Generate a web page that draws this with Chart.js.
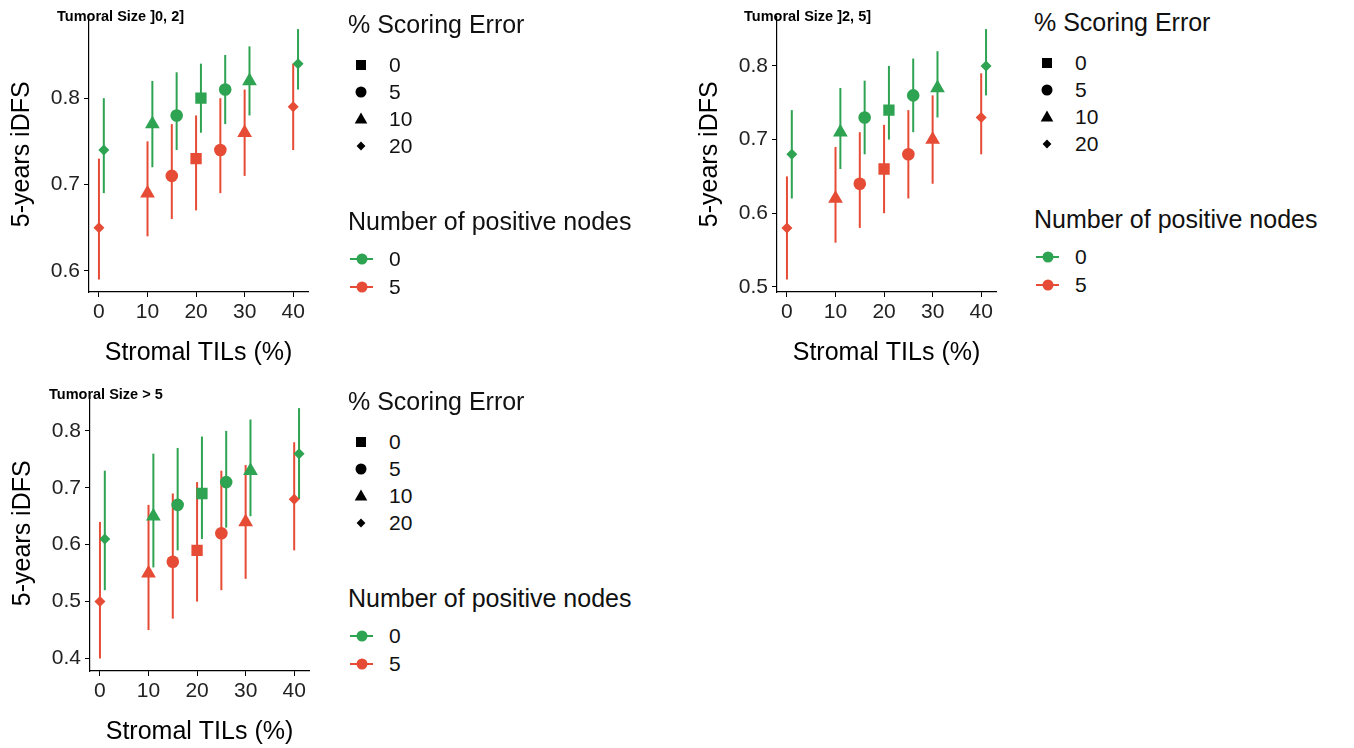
<!DOCTYPE html>
<html>
<head>
<meta charset="utf-8">
<script src="https://cdn.jsdelivr.net/npm/chart.js@4"></script>
<style>
body { margin:0; background:#fff; width:1354px; height:748px; overflow:hidden; position:relative; font-family:"Liberation Sans", Arial, sans-serif; }
canvas { position:absolute; }
.panel-title { position:absolute; font-weight:bold; font-size:14.5px; line-height:16px; color:#000; white-space:nowrap; }
.legend { position:absolute; width:340px; height:300px; }
.legend div, .legend svg { position:absolute; white-space:nowrap; color:#111; }
.lg-title { font-size:25px; line-height:28px; left:8px; }
.lg-label { font-size:21px; line-height:24px; left:49px; }
</style>
</head>
<body>
<canvas id="c1" width="320" height="370" style="left:0;top:0"></canvas>
<canvas id="c2" width="320" height="370" style="left:688px;top:0"></canvas>
<canvas id="c3" width="320" height="370" style="left:1px;top:379px"></canvas>
<div class="panel-title" style="left:57px;top:8px">Tumoral Size ]0, 2]</div>
<div class="panel-title" style="left:744px;top:8px">Tumoral Size ]2, 5]</div>
<div class="panel-title" style="left:49px;top:386px">Tumoral Size &gt; 5</div>
<script>
// Valori comune pentru toate panourile
const tilsValues = [0, 10, 15, 20, 25, 30, 40];
const scoringErrors = [20, 10, 5, 0, 5, 10, 20];
const errorLevels = [0, 5, 10, 20];
const nodeLevels = ['0', '5'];
const nodeColors = ['#2EA352', '#E64B35'];
const nodeDodge = [1, 0];
const xTicks = [0, 10, 20, 30, 40];

// Panoul 1: Tumoral Size ]0, 2]
const p1Est0 = [0.74, 0.77, 0.78, 0.80, 0.81, 0.82, 0.84];
const p1Low0 = [0.69, 0.72, 0.74, 0.76, 0.77, 0.78, 0.81];
const p1High0 = [0.80, 0.82, 0.83, 0.84, 0.85, 0.86, 0.88];
const p1Est5 = [0.65, 0.69, 0.71, 0.73, 0.74, 0.76, 0.79];
const p1Low5 = [0.59, 0.64, 0.66, 0.67, 0.69, 0.71, 0.74];
const p1High5 = [0.73, 0.75, 0.77, 0.78, 0.80, 0.81, 0.84];
const p1Ticks = [0.6, 0.7, 0.8];

// Panoul 2: Tumoral Size ]2, 5]
const p2Est0 = [0.68, 0.71, 0.73, 0.74, 0.76, 0.77, 0.80];
const p2Low0 = [0.62, 0.66, 0.68, 0.70, 0.71, 0.73, 0.76];
const p2High0 = [0.74, 0.77, 0.78, 0.80, 0.81, 0.82, 0.85];
const p2Est5 = [0.58, 0.62, 0.64, 0.66, 0.68, 0.70, 0.73];
const p2Low5 = [0.51, 0.56, 0.58, 0.60, 0.62, 0.64, 0.68];
const p2High5 = [0.65, 0.69, 0.71, 0.72, 0.74, 0.76, 0.79];
const p2Ticks = [0.5, 0.6, 0.7, 0.8];

// Panoul 3: Tumoral Size > 5
const p3Est0 = [0.61, 0.65, 0.67, 0.69, 0.71, 0.73, 0.76];
const p3Low0 = [0.52, 0.56, 0.59, 0.61, 0.63, 0.65, 0.68];
const p3High0 = [0.73, 0.76, 0.77, 0.79, 0.80, 0.82, 0.84];
const p3Est5 = [0.50, 0.55, 0.57, 0.59, 0.62, 0.64, 0.68];
const p3Low5 = [0.40, 0.45, 0.47, 0.50, 0.52, 0.54, 0.59];
const p3High5 = [0.64, 0.67, 0.69, 0.71, 0.73, 0.74, 0.78];
const p3Ticks = [0.4, 0.5, 0.6, 0.7, 0.8];

const FONT = '"Liberation Sans", Arial, sans-serif';
const shapeStyle = { 0: 'rect', 5: 'circle', 10: 'triangle', 20: 'rectRot' };
const shapeRadius = { 0: 8, 5: 6.3, 10: 8.5, 20: 5.5 };

// bare de eroare verticale, desenate sub puncte
const errorBars = {
  id: 'errorBars',
  beforeDatasetsDraw(chart) {
    const { ctx, scales: { x, y } } = chart;
    chart.data.datasets.forEach(ds => {
      ctx.save();
      ctx.strokeStyle = ds.backgroundColor;
      ctx.lineWidth = 2;
      ds.data.forEach((p, i) => {
        const px = x.getPixelForValue(p.x);
        ctx.beginPath();
        ctx.moveTo(px, y.getPixelForValue(ds.lows[i]));
        ctx.lineTo(px, y.getPixelForValue(ds.highs[i]));
        ctx.stroke();
      });
      ctx.restore();
    });
  }
};

const makePanel = (canvasId, groups, yTicks) => {
  const datasets = groups.map((g, k) => ({
    label: nodeLevels[k],
    data: tilsValues.map((t, i) => ({ x: t + nodeDodge[k], y: g.est[i] })),
    lows: g.low,
    highs: g.high,
    backgroundColor: nodeColors[k],
    borderWidth: 0,
    pointStyle: scoringErrors.map(e => shapeStyle[e]),
    pointRadius: scoringErrors.map(e => shapeRadius[e]),
    showLine: false
  }));

  const allLow = Math.min(...groups.flatMap(g => g.low));
  const allHigh = Math.max(...groups.flatMap(g => g.high));
  const yPad = (allHigh - allLow) * 0.05;
  const xs = datasets.flatMap(d => d.data.map(p => p.x));
  const xLo = Math.min(...xs), xHi = Math.max(...xs);
  const xPad = (xHi - xLo) * 0.05;

  new Chart(document.getElementById(canvasId), {
    type: 'scatter',
    data: { datasets },
    plugins: [errorBars],
    options: {
      responsive: false,
      animation: false,
      devicePixelRatio: 1,
      layout: { padding: { top: 16, right: 12, left: 0, bottom: 0 } },
      plugins: { legend: { display: false }, tooltip: { enabled: false } },
      scales: {
        x: {
          type: 'linear',
          min: xLo - xPad,
          max: xHi + xPad,
          afterBuildTicks: s => { s.ticks = xTicks.map(v => ({ value: v })); },
          afterFit: s => { s.height = 78; },
          grid: { drawOnChartArea: false, drawTicks: true, tickLength: 5, color: '#000', lineWidth: 1 },
          border: { color: '#000', width: 1.2 },
          ticks: { color: '#222', font: { size: 21, family: FONT }, padding: 3, maxRotation: 0, autoSkip: false, callback: v => String(v) },
          title: { display: true, text: 'Stromal TILs (%)', color: '#000', font: { size: 25, family: FONT }, padding: { top: 0, bottom: 2 } }
        },
        y: {
          type: 'linear',
          min: allLow - yPad,
          max: allHigh + yPad,
          afterBuildTicks: s => { s.ticks = yTicks.map(v => ({ value: v })); },
          afterFit: s => { s.width = 89; },
          grid: { drawOnChartArea: false, drawTicks: true, tickLength: 5, color: '#000', lineWidth: 1 },
          border: { color: '#000', width: 1.2 },
          ticks: { color: '#222', font: { size: 21, family: FONT }, padding: 4, autoSkip: false, callback: v => v.toFixed(1) },
          title: { display: true, text: '5-years iDFS', color: '#000', font: { size: 25, family: FONT }, padding: { top: 7, bottom: 0 } }
        }
      }
    }
  });
};

// forme pentru legenda de scoring error
const keyShape = (e) => {
  const c = '#000';
  if (e === 0) return `<rect x="3" y="3" width="10" height="10" fill="${c}"/>`;
  if (e === 5) return `<circle cx="8" cy="8" r="5.5" fill="${c}"/>`;
  if (e === 10) return `<polygon points="8,1.5 14.3,12.5 1.7,12.5" fill="${c}"/>`;
  return `<polygon points="8,3.6 12.4,8 8,12.4 3.6,8" fill="${c}"/>`;
};

const buildLegend = (left, top) => {
  const lg = document.createElement('div');
  lg.className = 'legend';
  lg.style.left = left + 'px';
  lg.style.top = top + 'px';
  let html = `<div class="lg-title" style="top:10px">% Scoring Error</div>`;
  errorLevels.forEach((e, i) => {
    const cy = 64.5 + i * 27.2;
    html += `<svg width="16" height="16" style="left:13px;top:${cy - 8}px">${keyShape(e)}</svg>`;
    html += `<div class="lg-label" style="top:${cy - 12}px">${e}</div>`;
  });
  html += `<div class="lg-title" style="top:207px">Number of positive nodes</div>`;
  nodeLevels.forEach((n, i) => {
    const cy = 258.5 + i * 28;
    html += `<svg width="30" height="14" style="left:9px;top:${cy - 7}px"><line x1="1" y1="7" x2="24" y2="7" stroke="${nodeColors[i]}" stroke-width="2"/><circle cx="13" cy="7" r="5.5" fill="${nodeColors[i]}"/></svg>`;
    html += `<div class="lg-label" style="top:${cy - 12}px">${n}</div>`;
  });
  lg.innerHTML = html;
  document.body.appendChild(lg);
};

document.addEventListener('DOMContentLoaded', () => {
  makePanel('c1', [
    { est: p1Est0, low: p1Low0, high: p1High0 },
    { est: p1Est5, low: p1Low5, high: p1High5 }
  ], p1Ticks);
  makePanel('c2', [
    { est: p2Est0, low: p2Low0, high: p2High0 },
    { est: p2Est5, low: p2Low5, high: p2High5 }
  ], p2Ticks);
  makePanel('c3', [
    { est: p3Est0, low: p3Low0, high: p3High0 },
    { est: p3Est5, low: p3Low5, high: p3High5 }
  ], p3Ticks);

  buildLegend(340, 0);
  buildLegend(1026, -2);
  buildLegend(340, 377);
});
</script>
</body>
</html>
